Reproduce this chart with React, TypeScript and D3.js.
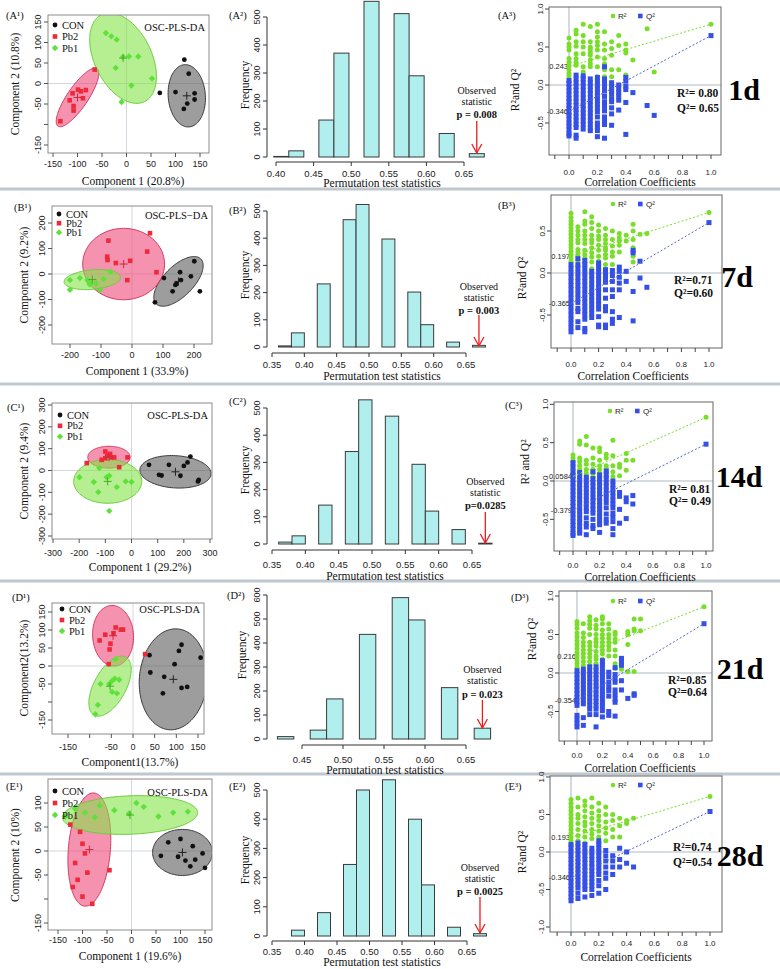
import React from "react";
import * as d3 from "d3";

const SERIF = "'Liberation Serif','Times New Roman',Times,serif";
const SANS = "'Liberation Sans',Arial,Helvetica,sans-serif";

// ---------------- DATA ----------------
const dayLabels = ["1d", "7d", "14d", "21d", "28d"];
const panelLetters = ["A", "B", "C", "D", "E"];
const groupNames = ["CON", "Pb2", "Pb1"];
const scoreXTitles = ["Component 1 (20.8%)", "Component 1 (33.9%)", "Component 1 (29.2%)", "Component1(13.7%)", "Component 1 (19.6%)"];
const scoreYTitles = ["Component 2 (10.8%)", "Component 2 (9.2%)", "Component 2 (9.4%)", "Component2(13.2%)", "Component 2 (10%)"];
const methodTitles = ["OSC-PLS-DA", "OSC-PLS\u2212DA", "OSC-PLS-DA", "OSC-PLS-DA", "OSC-PLS-DA"];

// score points [component 1, component 2]
const conA = [[68, -23], [118, 58], [127, 24], [100, -21], [139, -24], [139, -39], [124, -49], [117, -62]];
const pb2A = [[-65, 34], [-135, -92], [-110, -24], [-116, -41], [-99, -15], [-93, -19], [-83, -16], [-89, -36], [-108, -55], [-108, -66]];
const pb1A = [[-42, 123], [-31, 115], [-20, 107], [-22, 38], [-7, 65], [5, 66], [24, 66], [10, -5], [52, 12], [-10, -45]];
const conB = [[103, -16], [74, -111], [131, -68], [140, -43], [144, -38], [155, 7], [158, -24], [190, -9], [201, 50], [219, -68]];
const pb2B = [[-76, 131], [-80, 68], [-79, 55], [-52, 43], [-6, 52], [49, 88], [58, 160], [79, 7], [-15, -24]];
const pb1B = [[-200, -24], [-168, -16], [-144, -24], [-138, -34], [-136, -41], [-116, -37], [-92, -20], [-200, -62], [-103, -63], [-69, 9]];
const conC = [[67, 26], [105, -20], [115, -23], [143, 26], [187, -24], [200, 21], [214, 37], [225, 64], [254, -50], [257, -43]];
const pb2C = [[-171, 34], [-114, 49], [-100, 87], [-100, 56], [-82, 76], [-76, 60], [-66, 60], [-15, 60], [-47, 15], [-93, 68]];
const pb1C = [[-199, -31], [-144, -53], [-127, -99], [-123, 11], [-95, -31], [-85, -24], [-56, -76], [-22, -50], [0, -53], [-85, -185]];
const conD = [[38, 30], [40, -18], [72, -30], [69, -76], [96, 5], [106, 42], [112, 59], [112, -61], [125, -58], [156, 23]];
const pb2D = [[28, 33], [-77, 71], [-64, 87], [-56, 5], [-54, 46], [-52, 62], [-45, 91], [-40, 107], [-28, 101], [-23, 101]];
const pb1D = [[-40, 19], [-75, -50], [-55, -50], [-48, -41], [-42, -35], [-32, -38], [-48, -72], [-37, -76], [-81, -108], [-87, -134]];
const conE = [[60, -10], [75, 18], [95, -12], [110, -20], [120, -32], [130, -18], [145, -5], [150, -35], [100, 25], [125, 10]];
const pb2E = [[-125, 55], [-105, 40], [-100, 15], [-95, -5], [-115, -25], [-90, -45], [-120, -75], [-100, -95], [-80, -110], [-45, -40], [-110, -60]];
const pb1E = [[-135, 72], [-115, 88], [-95, 80], [-65, 95], [-35, 85], [-5, 78], [25, 92], [55, 72], [85, 80], [115, 82], [-75, 70], [10, 100]];

// confidence ellipses per group (CON, Pb2, Pb1): [cx, cy, ux, uy, vx, vy]
const ellA = [[123, -30, -3, 76, 38, 0], [-100, -34, 40, 70, 17, -15], [-7, 62, -44, 106, 52, 31]];
const ellB = [[150, -29, 72, 88, 34, -42], [-27, 39, 132, 0, 0, 140], [-128, -22, 91, 10, -3, 38]];
const ellC = [[168, -6, 136, -8, 0, 74], [-86, 61, 81, 0, 0, 50], [-91, -50, 130, 0, 0, 100]];
const ellD = [[93, -37, 78, -8, 10, 140], [-46, 84, 47, 5, -5, 84], [-53, -56, 36, 81, 33, -20]];
const ellE = [[104, -3, 61, 0, 0, 48], [-86, 3, 43, 0, 8, 118], [-3, 75, 138, 5, 0, 40]];

// permutation histograms: bin starts (width 0.02) and counts
const histStartsA = [0.397, 0.417, 0.457, 0.477, 0.517, 0.557, 0.577, 0.617, 0.657];
const histCountsA = [2, 22, 132, 371, 556, 512, 290, 84, 12];
const histStartsB = [0.36, 0.38, 0.42, 0.46, 0.48, 0.52, 0.56, 0.58, 0.62, 0.66];
const histCountsB = [4, 52, 232, 468, 524, 397, 202, 82, 18, 6];
const histStartsC = [0.36, 0.38, 0.42, 0.46, 0.48, 0.52, 0.56, 0.58, 0.62, 0.66];
const histCountsC = [7, 30, 143, 340, 530, 470, 293, 121, 53, 3];
const histStartsD = [0.42, 0.46, 0.48, 0.52, 0.56, 0.58, 0.62, 0.66];
const histCountsD = [10, 37, 167, 436, 589, 496, 214, 45];
const histStartsE = [0.38, 0.42, 0.46, 0.48, 0.52, 0.56, 0.58, 0.62, 0.66];
const histCountsE = [20, 80, 245, 500, 535, 400, 175, 30, 8];
const pTexts = ["p = 0.008", "p = 0.003", "p=0.0285", "p = 0.023", "p = 0.0025"];

// permutation (validation) plots: [correlation coefficient, values]
const r2A = [[0, [0.62, 0.54, 0.5, 0.46, 0.35, 0.3, 0.25, 0.2, 0.15, 0.12]], [0.05, [0.72, 0.67, 0.57, 0.51, 0.41, 0.35, 0.3, 0.26]], [0.1, [0.8, 0.65, 0.57, 0.5, 0.41, 0.24, 0.17]], [0.15, [0.77, 0.57, 0.5, 0.47, 0.43, 0.39, 0.33, 0.28, 0.24]], [0.2, [0.8, 0.7, 0.63, 0.57, 0.52, 0.46, 0.37, 0.24, 0.11]], [0.25, [0.7, 0.54, 0.46, 0.35, 0.28, 0.2, 0.11]], [0.3, [0.57, 0.48, 0.39, 0.2, 0.11]], [0.35, [0.65, 0.52, 0.2]], [0.4, [0.54, 0.46, 0.42, 0.13]], [0.45, [0.33]], [0.55, [0.74]], [0.6, [0.17]], [1, [0.8]]];
const q2A = [[0, [0.06, 0.02, -0.03, -0.08, -0.13, -0.18, -0.22, -0.27, -0.31, -0.36, -0.4, -0.45, -0.5, -0.54, -0.59, -0.64, -0.67]], [0.05, [0.13, 0.08, 0.03, -0.02, -0.07, -0.12, -0.17, -0.22, -0.27, -0.32, -0.37, -0.42, -0.47, -0.52, -0.56, -0.66, -0.7]], [0.1, [0.12, 0.08, 0.03, -0.02, -0.07, -0.12, -0.17, -0.22, -0.27, -0.32, -0.37, -0.42, -0.47, -0.52, -0.58]], [0.15, [0.08, 0.03, -0.02, -0.07, -0.12, -0.17, -0.22, -0.27, -0.32, -0.37, -0.42, -0.47, -0.52, -0.57, -0.6]], [0.2, [0.1, 0.05, 0, -0.05, -0.1, -0.15, -0.2, -0.25, -0.3, -0.35, -0.42, -0.5, -0.55, -0.6, -0.68]], [0.25, [0.24, 0.08, 0.03, -0.03, -0.08, -0.15, -0.22, -0.28, -0.34, -0.42, -0.48, -0.52, -0.7]], [0.3, [0.03, -0.03, -0.08, -0.12, -0.18, -0.22, -0.3, -0.38, -0.53]], [0.35, [0, -0.05, -0.1, -0.15, -0.2, -0.33]], [0.4, [0.1, 0.05, -0.02, -0.06, -0.23, -0.65]], [0.45, [-0.1]], [0.55, [-0.27]], [0.6, [-0.4]], [1, [0.65]]];
const r2B = [[0, [0.71, 0.66, 0.62, 0.58, 0.54, 0.5, 0.46, 0.42, 0.38, 0.34, 0.3, 0.26, 0.22, 0.18, 0.14]], [0.05, [0.55, 0.5, 0.45, 0.4, 0.36, 0.28, 0.24, 0.2, 0.15, 0.09]], [0.1, [0.73, 0.62, 0.58, 0.5, 0.45, 0.4, 0.35, 0.27, 0.22, 0.18, 0.12]], [0.15, [0.67, 0.6, 0.53, 0.45, 0.4, 0.36, 0.3, 0.24, 0.19, 0.13, 0.05]], [0.2, [0.57, 0.5, 0.44, 0.4, 0.33, 0.27, 0.2, 0.14, 0.1]], [0.25, [0.53, 0.45, 0.4, 0.35, 0.3, 0.27, 0.22, 0.18, 0.1]], [0.3, [0.5, 0.4, 0.32, 0.25, 0.2, 0.1]], [0.35, [0.47, 0.42, 0.38, 0.33, 0.25]], [0.4, [0.45, 0.38]], [0.45, [0.58, 0.5, 0.4, 0.3, 0.2, 0.13]], [0.5, [0.46]], [0.55, [0.47]], [1, [0.72]]];
const q2B = [[0, [0.1, 0.05, 0, -0.05, -0.1, -0.15, -0.2, -0.25, -0.3, -0.35, -0.4, -0.45, -0.5, -0.55, -0.6, -0.65, -0.7]], [0.05, [0.17, 0.1, 0.05, 0, -0.05, -0.1, -0.15, -0.2, -0.25, -0.3, -0.35, -0.42, -0.46, -0.58, -0.65]], [0.1, [0.15, 0.1, 0.05, 0, -0.05, -0.1, -0.15, -0.2, -0.25, -0.3, -0.35, -0.4, -0.45, -0.5, -0.55, -0.66, -0.7]], [0.15, [0.02, -0.03, -0.08, -0.13, -0.18, -0.23, -0.28, -0.33, -0.38, -0.43, -0.48, -0.53]], [0.2, [0.12, 0.07, 0.02, -0.03, -0.08, -0.13, -0.18, -0.23, -0.28, -0.33, -0.38, -0.43, -0.52, -0.62, -0.64]], [0.25, [0.04, -0.01, -0.06, -0.11, -0.2, -0.3, -0.4, -0.45, -0.62, -0.65]], [0.3, [0.03, -0.03, -0.1, -0.2, -0.28, -0.46, -0.55, -0.6]], [0.35, [0.07, 0.02, -0.05, -0.12, -0.2, -0.53]], [0.4, [0.02, -0.1]], [0.45, [0.27, 0.24, -0.22, -0.57]], [0.5, [0.14, -0.06]], [0.55, [-0.17]], [1, [0.6]]];
const r2C = [[0, [0.34, 0.3, 0.25, 0.2, 0.15, 0.1, 0.06]], [0.05, [0.52, 0.48, 0.3, 0.25, 0.2, 0.15, 0.1]], [0.1, [0.58, 0.47, 0.27, 0.22, 0.15, 0.1]], [0.15, [0.43, 0.3, 0.22, 0.15, 0.1, 0.05]], [0.2, [0.43, 0.38, 0.27, 0.2, 0.15, 0.1, 0.04]], [0.25, [0.35, 0.3, 0.2, 0.16, 0.12, 0.06]], [0.3, [0.53, 0.33, 0.2, 0.12, 0.06]], [0.35, [0.22, 0.18, 0.07]], [0.4, [0.36, 0.27, 0.14]], [0.45, [0.27]], [1, [0.83]]];
const q2C = [[0, [0.24, 0.18, 0.12, 0.07, 0.02, -0.03, -0.08, -0.13, -0.18, -0.23, -0.28, -0.33, -0.38, -0.43, -0.48, -0.53, -0.58, -0.63, -0.68, -0.71]], [0.05, [0.11, 0.06, 0.01, -0.04, -0.09, -0.14, -0.19, -0.24, -0.29, -0.34, -0.39, -0.44, -0.49, -0.54, -0.59, -0.64, -0.68]], [0.1, [0.05, 0, -0.05, -0.1, -0.15, -0.2, -0.25, -0.3, -0.35, -0.4, -0.48, -0.55, -0.6, -0.7]], [0.15, [0.12, 0.03, -0.02, -0.07, -0.12, -0.17, -0.22, -0.27, -0.32, -0.37, -0.42, -0.5, -0.58, -0.62]], [0.2, [0.08, 0.03, -0.02, -0.07, -0.12, -0.17, -0.22, -0.27, -0.32, -0.37, -0.42, -0.47, -0.52, -0.57, -0.67]], [0.25, [0.13, 0.08, 0.03, -0.02, -0.07, -0.12, -0.17, -0.22, -0.28, -0.35, -0.43, -0.5, -0.55]], [0.3, [0, -0.05, -0.1, -0.15, -0.2, -0.25, -0.3, -0.35, -0.42, -0.47, -0.53, -0.62, -0.7]], [0.35, [-0.15, -0.2, -0.37, -0.55]], [0.4, [-0.22, -0.27, -0.49]], [0.45, [-0.19, -0.3]], [1, [0.48]]];
const r2D = [[0, [0.67, 0.63, 0.58, 0.52, 0.47, 0.42, 0.37, 0.32, 0.27, 0.22, 0.17, 0.12, 0.07]], [0.05, [0.64, 0.52, 0.46, 0.4, 0.35, 0.3, 0.25, 0.2, 0.15, 0.1]], [0.1, [0.73, 0.68, 0.63, 0.58, 0.5, 0.4, 0.35, 0.3, 0.25, 0.2, 0.15, 0.1]], [0.15, [0.69, 0.62, 0.57, 0.5, 0.44, 0.4, 0.35, 0.28, 0.22, 0.18, 0.12]], [0.2, [0.73, 0.7, 0.64, 0.56, 0.5, 0.45, 0.4, 0.35, 0.3, 0.25, 0.18, 0.12]], [0.25, [0.64, 0.57, 0.5, 0.45, 0.4, 0.35, 0.3, 0.22]], [0.3, [0.53, 0.5, 0.44, 0.4, 0.3, 0.22, 0.12, 0.06]], [0.35, [0.17, 0.1, 0.05]], [0.4, [0.54, 0.5, 0.37, 0.02]], [0.45, [0.7, 0.57, 0.55, 0.02]], [0.5, [0.7, 0.55]], [1, [0.86]]];
const q2D = [[0, [0.03, -0.02, -0.07, -0.12, -0.17, -0.22, -0.27, -0.32, -0.37, -0.42, -0.55, -0.6, -0.65, -0.7]], [0.05, [0.05, 0, -0.05, -0.1, -0.15, -0.2, -0.25, -0.3, -0.35, -0.4, -0.58, -0.68]], [0.1, [0.08, 0.03, -0.02, -0.07, -0.12, -0.17, -0.22, -0.27, -0.32, -0.37, -0.42, -0.47, -0.54]], [0.15, [0.08, 0.03, -0.02, -0.07, -0.12, -0.17, -0.22, -0.27, -0.32, -0.37, -0.42, -0.47, -0.54, -0.7]], [0.2, [0.16, 0.11, 0.06, 0.01, -0.04, -0.09, -0.14, -0.19, -0.24, -0.29, -0.34, -0.39, -0.44, -0.49, -0.57]], [0.25, [0.01, -0.05, -0.12, -0.18, -0.23, -0.3, -0.5, -0.55]], [0.3, [0.07, -0.02, -0.07, -0.12, -0.22, -0.28, -0.34, -0.38, -0.56]], [0.35, [0.19, 0.15, 0.1, -0.1, -0.22]], [0.4, [-0.33]], [0.45, [-0.27, -0.29]], [1, [0.64]]];
const r2E = [[0, [0.7, 0.65, 0.6, 0.55, 0.5, 0.45, 0.4, 0.35, 0.3, 0.25, 0.2, 0.15, 0.1]], [0.05, [0.72, 0.6, 0.5, 0.45, 0.38, 0.3, 0.22, 0.15]], [0.1, [0.68, 0.62, 0.55, 0.47, 0.4, 0.35, 0.28, 0.2, 0.12]], [0.15, [0.72, 0.6, 0.52, 0.45, 0.38, 0.3, 0.24, 0.18]], [0.2, [0.65, 0.55, 0.48, 0.42, 0.35, 0.28, 0.2, 0.12]], [0.25, [0.6, 0.5, 0.4, 0.32, 0.25, 0.15]], [0.3, [0.5, 0.42, 0.3, 0.2]], [0.35, [0.45, 0.35, 0.2]], [0.4, [0.42, 0.38]], [0.45, [0.45]], [1, [0.74]]];
const q2E = [[0, [0.1, 0.05, 0, -0.05, -0.1, -0.15, -0.2, -0.25, -0.3, -0.35, -0.4, -0.45, -0.5, -0.55, -0.6, -0.65]], [0.05, [0.12, 0.07, 0.02, -0.03, -0.08, -0.13, -0.18, -0.23, -0.28, -0.33, -0.38, -0.43, -0.48, -0.55, -0.62]], [0.1, [0.1, 0.05, 0, -0.05, -0.1, -0.15, -0.2, -0.25, -0.3, -0.35, -0.4, -0.45, -0.5, -0.6]], [0.15, [0.05, 0, -0.05, -0.1, -0.15, -0.2, -0.25, -0.3, -0.35, -0.4, -0.45, -0.5, -0.58]], [0.2, [0.15, 0.1, 0.05, 0, -0.05, -0.1, -0.15, -0.2, -0.25, -0.3, -0.38, -0.45, -0.55]], [0.25, [0.02, -0.05, -0.12, -0.2, -0.28, -0.35, -0.5]], [0.3, [-0.05, -0.12, -0.2, -0.3]], [0.35, [0.05, -0.1, -0.2]], [0.4, [0, -0.15]], [0.45, [-0.2]], [1, [0.54]]];
const permIntercepts = [[0.243, -0.346], [0.197, -0.365], [0.0584, -0.379], [0.216, -0.354], [0.193, -0.346]];
const permInterceptLabels = [["0.243", "-0.346"], ["0.197", "-0.365"], ["0.0584", "-0.379"], ["0.216", "-0.354"], ["0.193", "-0.346"]];
const r2Texts = ["R\u00b2= 0.80", "R\u00b2=0.71", "R\u00b2= 0.81", "R\u00b2=0.85", "R\u00b2=0.74"];
const q2Texts = ["Q\u00b2= 0.65", "Q\u00b2=0.60", "Q\u00b2= 0.49", "Q\u00b2=0.64", "Q\u00b2=0.54"];
const permYTitles = ["R\u00b2and Q\u00b2", "R\u00b2and Q\u00b2", "R\u00b2 and Q\u00b2", "R\u00b2and Q\u00b2", "R\u00b2and Q\u00b2"];
const permLegendLabels = ["R\u00b2", "Q\u00b2"];

const scoreGroups = [[conA, pb2A, pb1A], [conB, pb2B, pb1B], [conC, pb2C, pb1C], [conD, pb2D, pb1D], [conE, pb2E, pb1E]];
const scoreEllipses = [ellA, ellB, ellC, ellD, ellE];
const histStarts = [histStartsA, histStartsB, histStartsC, histStartsD, histStartsE];
const histCounts = [histCountsA, histCountsB, histCountsC, histCountsD, histCountsE];
const r2Sets = [r2A, r2B, r2C, r2D, r2E];
const q2Sets = [q2A, q2B, q2C, q2D, q2E];

// ---------------- LAYOUT ----------------
const separatorsY = [189, 384, 581, 774];

const scoreLayouts = [
  { frame: [48, 209, 15, 153], xd: [-150, 150], xr: [53, 200], yd: [-150, 150], yr: [145, 22], xt: [-150, -100, -50, 0, 50, 100, 150], xSkip: [], yt: [-150, -100, -50, 0, 50, 100, 150], ySkip: [-100], xLabY: 164, xTitle: [133, 181], yTitle: [15, 84], label: [6, 15], legend: [55, 25, 11.5], oscY: 27 },
  { frame: [52, 212, 206, 344], xd: [-200, 200], xr: [70, 194], yd: [-200, 200], yr: [325, 223], xt: [-200, -100, 0, 100, 200], xSkip: [], yt: [-200, -100, 0, 100, 200], ySkip: [], xLabY: 355, xTitle: [137, 371], yTitle: [24, 275], label: [14, 207], legend: [59, 214, 9.2], oscY: 215 },
  { frame: [52, 212, 403, 539], xd: [-300, 300], xr: [53, 210], yd: [-300, 300], yr: [536, 405], xt: [-300, -200, -100, 0, 100, 200, 300], xSkip: [], yt: [-300, -200, -100, 0, 100, 200, 300], ySkip: [], xLabY: 553, xTitle: [140, 567], yTitle: [24, 471], label: [7, 407], legend: [60, 415, 10.8], oscY: 415 },
  { frame: [52, 204, 603, 734], xd: [-150, 150], xr: [68, 198], yd: [-150, 150], yr: [720, 612], xt: [-150, -100, -50, 0, 50, 100, 150], xSkip: [-100], yt: [-150, -100, -50, 0, 50, 100, 150], ySkip: [-100], xLabY: 747, xTitle: [130, 762], yTitle: [24, 668], label: [12, 597], legend: [62, 609, 11], oscY: 609 },
  { frame: [48, 212, 779, 930], xd: [-150, 150], xr: [58, 205], yd: [-150, 100], yr: [923, 803], xt: [-150, -100, -50, 0, 50, 100, 150], xSkip: [], yt: [-150, -100, -50, 0, 50, 100], ySkip: [-100], xLabY: 940, xTitle: [130, 956], yTitle: [15, 855], label: [6, 786], legend: [55, 791, 12], oscY: 792 },
];

const histLayouts = [
  { xd: [0.4, 0.65], xr: [276, 464], xt: [0.4, 0.45, 0.5, 0.55, 0.6, 0.65], y0: 157, yMaxVal: 500, yMaxPx: 17, yt: [0, 100, 200, 300, 400, 500], yAxisX: 267, xAxisY: 162, xLabY: 173, title: [382, 183], freq: [245, 85], label: [229, 15], obs: [90, 101, 114], arrow: [121, 153] },
  { xd: [0.35, 0.65], xr: [272, 466], xt: [0.35, 0.4, 0.45, 0.5, 0.55, 0.6, 0.65], y0: 347, yMaxVal: 500, yMaxPx: 211, yt: [0, 100, 200, 300, 400, 500], yAxisX: 267, xAxisY: 353, xLabY: 364, title: [382, 376], freq: [245, 275], label: [229, 210], obs: [286, 297, 310], arrow: [315, 346] },
  { xd: [0.35, 0.65], xr: [272, 472], xt: [0.35, 0.4, 0.45, 0.5, 0.55, 0.6, 0.65], y0: 544, yMaxVal: 500, yMaxPx: 408, yt: [0, 100, 200, 300, 400, 500], yAxisX: 267, xAxisY: 550, xLabY: 564, title: [385, 576], freq: [245, 470], label: [229, 401], obs: [481, 492, 505], arrow: [512, 543] },
  { xd: [0.45, 0.65], xr: [302, 466], xt: [0.45, 0.5, 0.55, 0.6, 0.65], y0: 739, yMaxVal: 600, yMaxPx: 595, yt: [0, 100, 200, 300, 400, 500, 600], yAxisX: 267, xAxisY: 745, xLabY: 759, title: [385, 770], freq: [242, 655], label: [227, 595], obs: [669, 680, 694], arrow: [700, 728] },
  { xd: [0.35, 0.65], xr: [272, 467], xt: [0.35, 0.4, 0.45, 0.5, 0.55, 0.6, 0.65], y0: 936, yMaxVal: 500, yMaxPx: 790, yt: [0, 100, 200, 300, 400, 500], yAxisX: 267, xAxisY: 941, xLabY: 951, title: [382, 962], freq: [245, 860], label: [229, 786], obs: [867, 878, 891], arrow: [897, 933] },
];

const permLayouts = [
  { frame: [549, 721, 7, 155], xr: [569, 711], y0: 85, yUnit: 76, xLabY: 172, title: [640, 182], ylab: [515, 90], label: [498, 15], legend: [613, 16], ann: [677, 93, 108], day: [744, 89] },
  { frame: [551, 722, 195, 348], xr: [571, 709], y0: 273, yUnit: 84, xLabY: 364, title: [633, 376], ylab: [522, 278], label: [498, 205], legend: [613, 204], ann: [674, 280, 293], day: [737, 276] },
  { frame: [554, 713, 402, 551], xr: [573, 706], y0: 481, yUnit: 76.7, xLabY: 565, title: [640, 577], ylab: [525, 462], label: [505, 405], legend: [610, 411], ann: [669, 489, 501], day: [739, 476] },
  { frame: [559, 712, 591, 741], xr: [577, 704], y0: 673, yUnit: 77, xLabY: 755, title: [640, 768], ylab: [532, 639], label: [511, 597], legend: [613, 601], ann: [668, 680, 692], day: [740, 668] },
  { frame: [550, 722, 776, 932], xr: [571, 710], y0: 852, yUnit: 75, xLabY: 943, title: [636, 957], ylab: [522, 852], label: [505, 786], legend: [613, 785], ann: [673, 847, 862], day: [740, 855] },
];

// ---------------- STYLE ----------------
const pointColors = ["#111111", "#ee2a3a", "#5ee23a"];
const crossColors = ["#222222", "#c8283f", "#3fae22"];
const ellFill = ["#5c5c5c", "#ee4a7a", "#86e24a"];
const ellStroke = ["#3a3a3a", "#d43a62", "#6ccd3c"];
const R2_COLOR = "#78de2a";
const Q2_COLOR = "#3550e6";
const HIST_FILL = "#b1eeee";

const fmtMinus = (s: string) => s.replace("\u2212", "-");

function Marker({ g, x, y }: { g: number; x: number; y: number }) {
  if (g === 0) return <circle cx={x} cy={y} r={2.4} fill={pointColors[0]} />;
  if (g === 1) return <rect x={x - 2.3} y={y - 2.3} width={4.6} height={4.6} fill={pointColors[1]} />;
  return <path d={`M${x},${y - 3.2}L${x + 3.2},${y}L${x},${y + 3.2}L${x - 3.2},${y}Z`} fill={pointColors[2]} />;
}

function ScorePanel({ i }: { i: number }) {
  const L = scoreLayouts[i];
  const x = d3.scaleLinear().domain(L.xd).range(L.xr);
  const y = d3.scaleLinear().domain(L.yd).range(L.yr);
  const [fx0, fx1, fy0, fy1] = L.frame;
  const clipId = `sclip${i}`;
  const angles = d3.range(0, 361, 3).map((a) => (a * Math.PI) / 180);
  const ells = scoreEllipses[i];
  const ellPath = (e: number[]) =>
    (d3
      .line<number>()
      .x((t) => x(e[0] + e[2] * Math.cos(t) + e[4] * Math.sin(t)))
      .y((t) => y(e[1] + e[3] * Math.cos(t) + e[5] * Math.sin(t)))(angles) || "") + "Z";
  const [lx, ly, ldy] = L.legend;
  return (
    <g>
      <defs>
        <clipPath id={clipId}>
          <rect x={fx0} y={fy0} width={fx1 - fx0} height={fy1 - fy0} />
        </clipPath>
      </defs>
      <g clipPath={`url(#${clipId})`}>
        <line x1={x(0)} x2={x(0)} y1={fy0} y2={fy1} stroke="#d3d8dc" strokeWidth={1} />
        <line x1={fx0} x2={fx1} y1={y(0)} y2={y(0)} stroke="#d3d8dc" strokeWidth={1} />
        {ells.map((e, g) => (
          <path key={g} d={ellPath(e)} fill={ellFill[g]} fillOpacity={0.6} stroke={ellStroke[g]} strokeWidth={1} />
        ))}
        {scoreGroups[i].map((pts, g) =>
          pts.map((p, k) => <Marker key={`${g}-${k}`} g={g} x={x(p[0])} y={y(p[1])} />)
        )}
        {ells.map((e, g) => (
          <g key={`c${g}`} stroke={crossColors[g]} strokeWidth={1}>
            <line x1={x(e[0]) - 4} x2={x(e[0]) + 4} y1={y(e[1])} y2={y(e[1])} />
            <line x1={x(e[0])} x2={x(e[0])} y1={y(e[1]) - 4} y2={y(e[1]) + 4} />
          </g>
        ))}
      </g>
      <rect x={fx0} y={fy0} width={fx1 - fx0} height={fy1 - fy0} fill="none" stroke="#8c8c8c" strokeWidth={1} />
      {L.xt.map((v) => (
        <g key={`xt${v}`}>
          <line x1={x(v)} x2={x(v)} y1={fy1} y2={fy1 + 4} stroke="#555" />
          {!L.xSkip.includes(v) && (
            <text x={x(v)} y={L.xLabY} textAnchor="middle" dominantBaseline="central" fontFamily={SANS} fontSize={9} fill="#222">
              {String(v)}
            </text>
          )}
        </g>
      ))}
      {L.yt.map((v) => (
        <g key={`yt${v}`}>
          <line x1={fx0 - 4} x2={fx0} y1={y(v)} y2={y(v)} stroke="#555" />
          {!L.ySkip.includes(v) && (
            <text transform={`translate(${fx0 - 10},${y(v)}) rotate(-90)`} textAnchor="middle" dominantBaseline="central" fontFamily={SANS} fontSize={9} fill="#222">
              {String(v)}
            </text>
          )}
        </g>
      ))}
      <text x={L.xTitle[0]} y={L.xTitle[1]} textAnchor="middle" dominantBaseline="central" fontFamily={SERIF} fontSize={11.5} fill="#111">
        {scoreXTitles[i]}
      </text>
      <text transform={`translate(${L.yTitle[0]},${L.yTitle[1]}) rotate(-90)`} textAnchor="middle" dominantBaseline="central" fontFamily={SERIF} fontSize={11.5} fill="#111">
        {scoreYTitles[i]}
      </text>
      <text x={L.label[0]} y={L.label[1]} dominantBaseline="central" fontFamily={SERIF} fontSize={10.5} fill="#111">
        {`(${panelLetters[i]}\u00b9)`}
      </text>
      {groupNames.map((name, g) => (
        <g key={name}>
          <Marker g={g} x={lx} y={ly + g * ldy} />
          <text x={lx + 7} y={ly + g * ldy} dominantBaseline="central" fontFamily={SERIF} fontSize={10.5} fill="#111">
            {name}
          </text>
        </g>
      ))}
      <text x={fx1 - 4} y={L.oscY} textAnchor="end" dominantBaseline="central" fontFamily={SERIF} fontSize={10.5} fill="#111">
        {methodTitles[i]}
      </text>
    </g>
  );
}

function HistPanel({ i }: { i: number }) {
  const L = histLayouts[i];
  const x = d3.scaleLinear().domain(L.xd).range(L.xr);
  const y = d3.scaleLinear().domain([0, L.yMaxVal]).range([L.y0, L.yMaxPx]);
  const starts = histStarts[i];
  const counts = histCounts[i];
  const binW = 0.02;
  const lastStart = starts[starts.length - 1];
  const ax = x(lastStart + binW / 2);
  const [a0, a1] = L.arrow;
  const fmt = d3.format(".2f");
  return (
    <g>
      {starts.map((s, k) => (
        <rect key={k} x={x(s)} y={y(counts[k])} width={x(s + binW) - x(s)} height={y(0) - y(counts[k])} fill={HIST_FILL} stroke="#3a3a3a" strokeWidth={1} />
      ))}
      <line x1={L.yAxisX} x2={L.yAxisX} y1={y(L.yt[0])} y2={y(L.yt[L.yt.length - 1])} stroke="#333" />
      {L.yt.map((v) => (
        <g key={`y${v}`}>
          <line x1={L.yAxisX - 4} x2={L.yAxisX} y1={y(v)} y2={y(v)} stroke="#333" />
          <text transform={`translate(${L.yAxisX - 10},${y(v)}) rotate(-90)`} textAnchor="middle" dominantBaseline="central" fontFamily={SANS} fontSize={9} fill="#222">
            {String(v)}
          </text>
        </g>
      ))}
      <line x1={x(L.xt[0])} x2={x(L.xt[L.xt.length - 1])} y1={L.xAxisY} y2={L.xAxisY} stroke="#333" />
      {L.xt.map((v) => (
        <g key={`x${v}`}>
          <line x1={x(v)} x2={x(v)} y1={L.xAxisY} y2={L.xAxisY + 4} stroke="#333" />
          <text x={x(v)} y={L.xLabY} textAnchor="middle" dominantBaseline="central" fontFamily={SANS} fontSize={9.5} fill="#222">
            {fmt(v)}
          </text>
        </g>
      ))}
      <text x={L.title[0]} y={L.title[1]} textAnchor="middle" dominantBaseline="central" fontFamily={SERIF} fontSize={11.5} fill="#111">
        Permutation test statistics
      </text>
      <text transform={`translate(${L.freq[0]},${L.freq[1]}) rotate(-90)`} textAnchor="middle" dominantBaseline="central" fontFamily={SERIF} fontSize={11.5} fill="#111">
        Frequency
      </text>
      <text x={L.label[0]} y={L.label[1]} dominantBaseline="central" fontFamily={SERIF} fontSize={10.5} fill="#111">
        {`(${panelLetters[i]}\u00b2)`}
      </text>
      <text x={ax} y={L.obs[0]} textAnchor="middle" dominantBaseline="central" fontFamily={SERIF} fontSize={10} fill="#111">
        Observed
      </text>
      <text x={ax} y={L.obs[1]} textAnchor="middle" dominantBaseline="central" fontFamily={SERIF} fontSize={10} fill="#111">
        statistic
      </text>
      <text x={ax} y={L.obs[2]} textAnchor="middle" dominantBaseline="central" fontFamily={SERIF} fontSize={10.5} fontWeight="bold" fill="#111">
        {pTexts[i]}
      </text>
      <g stroke="#ee1c1c" strokeWidth={1.3} fill="none">
        <line x1={ax} x2={ax} y1={a0} y2={a1} />
        <path d={`M${ax - 5},${a1 - 9}L${ax},${a1}L${ax + 5},${a1 - 9}`} />
      </g>
    </g>
  );
}

function PermPanel({ i }: { i: number }) {
  const L = permLayouts[i];
  const x = d3.scaleLinear().domain([0, 1]).range(L.xr);
  const y = d3.scaleLinear().domain([0, 1]).range([L.y0, L.y0 - L.yUnit]);
  const [fx0, fx1, fy0, fy1] = L.frame;
  const r2 = r2Sets[i];
  const q2 = q2Sets[i];
  const r2Final = r2[r2.length - 1][1][0];
  const q2Final = q2[q2.length - 1][1][0];
  const [icR, icQ] = permIntercepts[i];
  const xTicks = [-0.1, 0, 0.1, 0.2, 0.3, 0.4, 0.5, 0.6, 0.7, 0.8, 0.9, 1.0];
  const xLabels = [0, 0.2, 0.4, 0.6, 0.8, 1.0];
  const yTicks = [-1, -0.5, 0, 0.5, 1].filter((v) => y(v) >= fy0 - 0.5 && y(v) <= fy1);
  const f1 = d3.format(".1f");
  const clipId = `pclip${i}`;
  return (
    <g>
      <defs>
        <clipPath id={clipId}>
          <rect x={fx0} y={fy0} width={fx1 - fx0} height={fy1 - fy0} />
        </clipPath>
      </defs>
      <g clipPath={`url(#${clipId})`}>
        <line x1={x(0)} x2={x(0)} y1={fy0} y2={fy1} stroke="#c9d0d6" strokeWidth={1.6} />
        <line x1={fx0} x2={fx1} y1={y(0)} y2={y(0)} stroke="#c9d0d6" strokeWidth={1.6} />
      </g>
      <text x={x(0) - 1} y={y(icR)} textAnchor="end" dominantBaseline="central" fontFamily={SANS} fontSize={7.5} fill="#222">
        {permInterceptLabels[i][0]}
      </text>
      <text x={x(0) - 1} y={y(icQ)} textAnchor="end" dominantBaseline="central" fontFamily={SANS} fontSize={7.5} fill="#222">
        {permInterceptLabels[i][1]}
      </text>
      <g clipPath={`url(#${clipId})`}>
        {r2.map(([cx, vals]: any, k: number) =>
          vals.map((v: number, j: number) => <circle key={`r${k}-${j}`} cx={x(cx)} cy={y(v)} r={2.5} fill={R2_COLOR} />)
        )}
        {q2.map(([cx, vals]: any, k: number) =>
          vals.map((v: number, j: number) => <rect key={`q${k}-${j}`} x={x(cx) - 2.5} y={y(v) - 2.5} width={5} height={5} fill={Q2_COLOR} />)
        )}
        <line x1={x(0)} y1={y(icR)} x2={x(1)} y2={y(r2Final)} stroke={R2_COLOR} strokeWidth={1} strokeDasharray="2,2" />
        <line x1={x(0)} y1={y(icQ)} x2={x(1)} y2={y(q2Final)} stroke="#5566cc" strokeWidth={1} strokeDasharray="2,2" />
      </g>
      <rect x={fx0} y={fy0} width={fx1 - fx0} height={fy1 - fy0} fill="none" stroke="#666" strokeWidth={1} />
      {xTicks.map((v) => (
        <line key={`xt${v}`} x1={x(v)} x2={x(v)} y1={fy1} y2={fy1 + 4} stroke="#444" />
      ))}
      {xLabels.map((v) => (
        <text key={`xl${v}`} x={x(v)} y={L.xLabY} textAnchor="middle" dominantBaseline="central" fontFamily={SANS} fontSize={8} fill="#222">
          {f1(v)}
        </text>
      ))}
      {yTicks.map((v) => (
        <g key={`yt${v}`}>
          <line x1={fx0 - 4} x2={fx0} y1={y(v)} y2={y(v)} stroke="#444" />
          <text transform={`translate(${fx0 - 9},${y(v)}) rotate(-90)`} textAnchor="middle" dominantBaseline="central" fontFamily={SANS} fontSize={8} fill="#222">
            {fmtMinus(f1(v))}
          </text>
        </g>
      ))}
      <text x={L.title[0]} y={L.title[1]} textAnchor="middle" dominantBaseline="central" fontFamily={SERIF} fontSize={11.5} fill="#111">
        Correlation Coefficients
      </text>
      <text transform={`translate(${L.ylab[0]},${L.ylab[1]}) rotate(-90)`} textAnchor="middle" dominantBaseline="central" fontFamily={SERIF} fontSize={11.5} fill="#111">
        {permYTitles[i]}
      </text>
      <text x={L.label[0]} y={L.label[1]} dominantBaseline="central" fontFamily={SERIF} fontSize={10.5} fill="#111">
        {`(${panelLetters[i]}\u00b3)`}
      </text>
      <circle cx={L.legend[0]} cy={L.legend[1]} r={2.3} fill={R2_COLOR} />
      <text x={L.legend[0] + 5} y={L.legend[1]} dominantBaseline="central" fontFamily={SANS} fontSize={8} fill="#222">
        {permLegendLabels[0]}
      </text>
      <rect x={L.legend[0] + 25} y={L.legend[1] - 2.3} width={4.6} height={4.6} fill={Q2_COLOR} />
      <text x={L.legend[0] + 33} y={L.legend[1]} dominantBaseline="central" fontFamily={SANS} fontSize={8} fill="#222">
        {permLegendLabels[1]}
      </text>
      <text x={L.ann[0]} y={L.ann[1]} dominantBaseline="central" fontFamily={SERIF} fontSize={11.5} fontWeight="bold" fill="#111">
        {r2Texts[i]}
      </text>
      <text x={L.ann[0]} y={L.ann[2]} dominantBaseline="central" fontFamily={SERIF} fontSize={11.5} fontWeight="bold" fill="#111">
        {q2Texts[i]}
      </text>
      <text x={L.day[0]} y={L.day[1]} textAnchor="middle" dominantBaseline="central" fontFamily={SERIF} fontSize={30} fontWeight="bold" fill="#000">
        {dayLabels[i]}
      </text>
    </g>
  );
}

export default function App() {
  return (
    <svg width={780} height={969} viewBox="0 0 780 969" style={{ position: "absolute", left: 0, top: 0, background: "#fff" }}>
      <rect x={0} y={0} width={780} height={969} fill="#fff" />
      {separatorsY.map((sy) => (
        <line key={sy} x1={0} x2={780} y1={sy} y2={sy} stroke="#bfc8ce" strokeWidth={3} />
      ))}
      {dayLabels.map((_, i) => (
        <g key={i}>
          <ScorePanel i={i} />
          <HistPanel i={i} />
          <PermPanel i={i} />
        </g>
      ))}
    </svg>
  );
}
